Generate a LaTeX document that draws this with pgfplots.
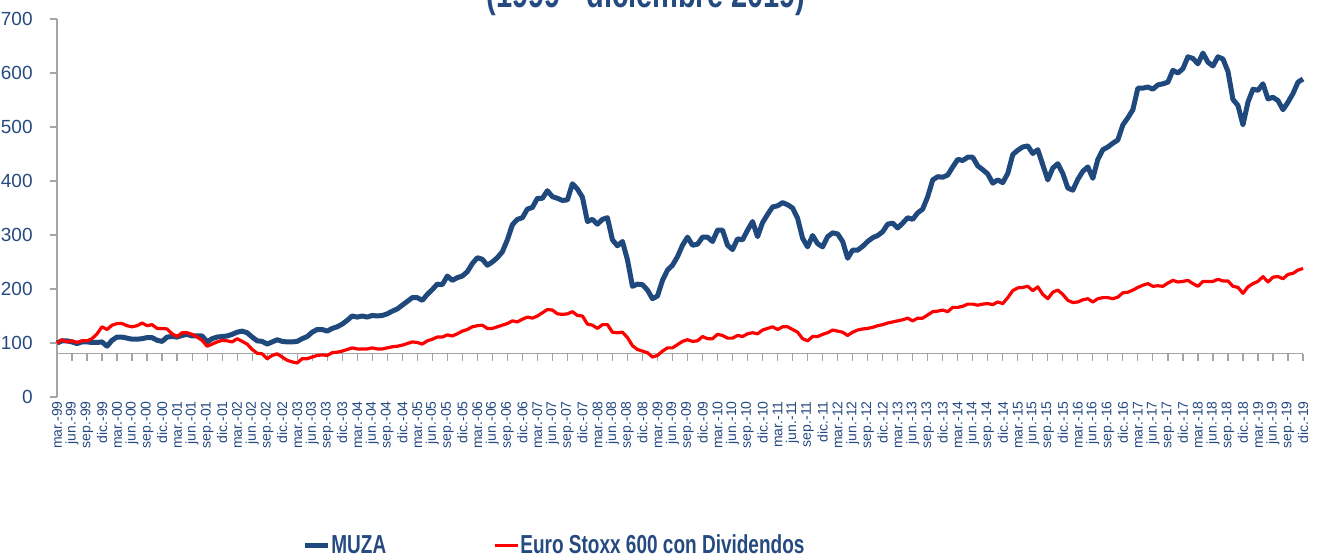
\documentclass[border=0pt]{standalone}
\usepackage{pgfplots}
\pgfplotsset{compat=1.18}
\usepackage{fontspec}
\setmainfont{Liberation Sans}
\definecolor{muza}{RGB}{31,73,125}
\definecolor{txt}{RGB}{37,74,128}
\definecolor{axgray}{RGB}{165,165,165}
\begin{document}
\begin{tikzpicture}[x=1pt,y=1pt]
\begin{axis}[
  at={(28.5pt,79.5pt)}, anchor=south west,
  scale only axis, width=623pt, height=189pt,
  xmin=0, xmax=249, ymin=0, ymax=700,
  clip=false,
  axis y line*=left, axis x line*=bottom,
  x axis line style={draw=none},
  y axis line style={draw=axgray, line width=0.6pt, -},
  ytick={0,100,...,700},
  xtick={0,3,...,249},
  xticklabels={mar.-99,jun.-99,sep.-99,dic.-99,mar.-00,jun.-00,sep.-00,dic.-00,mar.-01,jun.-01,sep.-01,dic.-01,mar.-02,jun.-02,sep.-02,dic.-02,mar.-03,jun.-03,sep.-03,dic.-03,mar.-04,jun.-04,sep.-04,dic.-04,mar.-05,jun.-05,sep.-05,dic.-05,mar.-06,jun.-06,sep.-06,dic.-06,mar.-07,jun.-07,sep.-07,dic.-07,mar.-08,jun.-08,sep.-08,dic.-08,mar.-09,jun.-09,sep.-09,dic.-09,mar.-10,jun.-10,sep.-10,dic.-10,mar.-11,jun.-11,sep.-11,dic.-11,mar.-12,jun.-12,sep.-12,dic.-12,mar.-13,jun.-13,sep.-13,dic.-13,mar.-14,jun.-14,sep.-14,dic.-14,mar.-15,jun.-15,sep.-15,dic.-15,mar.-16,jun.-16,sep.-16,dic.-16,mar.-17,jun.-17,sep.-17,dic.-17,mar.-18,jun.-18,sep.-18,dic.-18,mar.-19,jun.-19,sep.-19,dic.-19},
  xtick style={draw=none},
  ytick style={draw=axgray, line width=0.6pt},
  xtick align=inside, ytick align=outside,
  major tick length=3.5pt,
  /pgf/number format/assume math mode=true,
  yticklabel style={font=\fontsize{9.5}{11}\selectfont, text=txt, inner sep=0pt},
  yticklabel shift=8.5pt,
  xticklabel style={font=\fontsize{7}{8}\selectfont, text=txt, rotate=90, anchor=east, inner sep=0pt},
  xticklabel shift=2pt,
  legend style={at={(0.1966,-0.393)}, anchor=west, draw=none, fill=none,
    legend columns=2, inner sep=0pt,
    nodes={inner sep=0.5pt, text=txt, font=\bfseries\fontsize{9.5}{11}\selectfont},
    /tikz/every even column/.append style={column sep=53pt}},
  legend image code/.code={\draw[#1] (0pt,0pt) -- (11.5pt,0pt);},
]
\draw[axgray, line width=0.6pt] (axis cs:0,80) -- (axis cs:249,80);
\pgfplotsinvokeforeach{3,6,...,249}{\draw[axgray, line width=0.6pt] (axis cs:#1,80) -- ++(0pt,-3.5pt);}
\addplot[muza, line width=2.5pt, line join=round] coordinates {
(0,100) (1,104) (2,104) (3,102) (4,99) (5,102) (6,102) (7,101) (8,101) (9,102)
(10,94) (11,105) (12,111) (13,111) (14,109) (15,107) (16,107) (17,108) (18,110) (19,110)
(20,105) (21,103) (22,111) (23,112) (24,111) (25,114) (26,116) (27,113) (28,113) (29,113)
(30,102) (31,108) (32,111) (33,112) (34,113) (35,116) (36,120) (37,122) (38,119) (39,111)
(40,104) (41,103) (42,98) (43,102) (44,106) (45,103) (46,102) (47,102) (48,103) (49,108)
(50,112) (51,120) (52,125) (53,125) (54,122) (55,127) (56,130) (57,135) (58,142) (59,150)
(60,148) (61,150) (62,148) (63,151) (64,150) (65,151) (66,154) (67,159) (68,163) (69,170)
(70,177) (71,184) (72,184) (73,179) (74,190) (75,199) (76,209) (77,208) (78,224) (79,216)
(80,221) (81,224) (82,232) (83,247) (84,258) (85,255) (86,244) (87,250) (88,258) (89,269)
(90,291) (91,319) (92,329) (93,332) (94,348) (95,351) (96,368) (97,368) (98,382) (99,371)
(100,368) (101,364) (102,365) (103,395) (104,385) (105,370) (106,325) (107,329) (108,320) (109,329)
(110,332) (111,291) (112,280) (113,288) (114,254) (115,205) (116,209) (117,208) (118,198) (119,182)
(120,187) (121,216) (122,235) (123,244) (124,260) (125,281) (126,296) (127,281) (128,283) (129,296)
(130,296) (131,288) (132,309) (133,309) (134,281) (135,273) (136,293) (137,291) (138,309) (139,325)
(140,297) (141,323) (142,338) (143,352) (144,354) (145,360) (146,356) (147,350) (148,331) (149,294)
(150,278) (151,299) (152,284) (153,278) (154,297) (155,304) (156,302) (157,288) (158,257) (159,272)
(160,272) (161,279) (162,288) (163,295) (164,299) (165,306) (166,320) (167,322) (168,313) (169,322)
(170,332) (171,329) (172,341) (173,348) (174,371) (175,402) (176,408) (177,407) (178,411) (179,426)
(180,440) (181,438) (182,444) (183,444) (184,428) (185,421) (186,413) (187,396) (188,402) (189,397)
(190,414) (191,449) (192,457) (193,463) (194,465) (195,451) (196,458) (197,430) (198,402) (199,424)
(200,432) (201,414) (202,387) (203,383) (204,403) (205,418) (206,426) (207,405) (208,440) (209,458)
(210,463) (211,470) (212,476) (213,504) (214,517) (215,532) (216,572) (217,572) (218,574) (219,570)
(220,578) (221,580) (222,583) (223,605) (224,600) (225,608) (226,630) (227,627) (228,617) (229,637)
(230,620) (231,613) (232,630) (233,626) (234,603) (235,551) (236,540) (237,504) (238,546) (239,570)
(240,568) (241,580) (242,552) (243,555) (244,549) (245,532) (246,546) (247,562) (248,583) (249,589)
};
\addlegendentry{\scalebox{1}[1.37]{MUZA}}
\addplot[red, line width=1.6pt, line join=round] coordinates {
(0,100) (1,106) (2,102) (3,104) (4,101) (5,104) (6,104) (7,108) (8,117) (9,130)
(10,125) (11,133) (12,136) (13,136) (14,132) (15,130) (16,132) (17,137) (18,132) (19,134)
(20,127) (21,127) (22,126) (23,117) (24,112) (25,119) (26,119) (27,116) (28,111) (29,105)
(30,94) (31,98) (32,102) (33,105) (34,104) (35,102) (36,108) (37,103) (38,98) (39,88)
(40,81) (41,80) (42,71) (43,77) (44,80) (45,74) (46,68) (47,65) (48,63) (49,71)
(50,71) (51,74) (52,77) (53,78) (54,77) (55,82) (56,83) (57,85) (58,88) (59,91)
(60,89) (61,89) (62,89) (63,91) (64,89) (65,89) (66,91) (67,93) (68,94) (69,96)
(70,99) (71,102) (72,101) (73,98) (74,104) (75,107) (76,111) (77,111) (78,115) (79,113)
(80,117) (81,122) (82,125) (83,130) (84,132) (85,133) (86,127) (87,127) (88,130) (89,133)
(90,136) (91,141) (92,139) (93,144) (94,148) (95,146) (96,150) (97,156) (98,162) (99,161)
(100,154) (101,153) (102,154) (103,158) (104,151) (105,150) (106,135) (107,133) (108,127) (109,134)
(110,134) (111,120) (112,119) (113,120) (114,110) (115,95) (116,88) (117,85) (118,82) (119,74)
(120,77) (121,85) (122,91) (123,91) (124,97) (125,103) (126,106) (127,103) (128,104) (129,112)
(130,108) (131,108) (132,116) (133,114) (134,109) (135,109) (136,114) (137,112) (138,117) (139,119)
(140,117) (141,124) (142,127) (143,130) (144,125) (145,130) (146,130) (147,125) (148,120) (149,108)
(150,104) (151,112) (152,112) (153,116) (154,119) (155,124) (156,122) (157,120) (158,114) (159,120)
(160,124) (161,126) (162,127) (163,129) (164,132) (165,134) (166,137) (167,139) (168,141) (169,143)
(170,146) (171,141) (172,146) (173,146) (174,152) (175,158) (176,159) (177,161) (178,158) (179,166)
(180,166) (181,168) (182,172) (183,172) (184,170) (185,172) (186,173) (187,171) (188,176) (189,173)
(190,184) (191,197) (192,202) (193,203) (194,205) (195,197) (196,204) (197,190) (198,182) (199,194)
(200,198) (201,190) (202,179) (203,175) (204,176) (205,180) (206,182) (207,176) (208,182) (209,184)
(210,184) (211,182) (212,185) (213,193) (214,194) (215,198) (216,203) (217,207) (218,210) (219,205)
(220,206) (221,205) (222,211) (223,216) (224,213) (225,214) (226,216) (227,210) (228,205) (229,214)
(230,214) (231,214) (232,218) (233,215) (234,215) (235,205) (236,203) (237,192) (238,204) (239,210)
(240,214) (241,223) (242,213) (243,222) (244,223) (245,219) (246,227) (247,229) (248,235) (249,238)
};
\addlegendentry{\scalebox{1}[1.37]{Euro Stoxx 600 con Dividendos}}
\end{axis}
\node[anchor=base, text=txt, font=\bfseries\fontsize{14.5}{17}\selectfont] at (323pt,274.25pt) {\scalebox{1}[1.37]{(1999 - diciembre 2019)}};
\pgfresetboundingbox
\useasboundingbox (0,0) rectangle (661.5pt,278pt);
\end{tikzpicture}
\end{document}
